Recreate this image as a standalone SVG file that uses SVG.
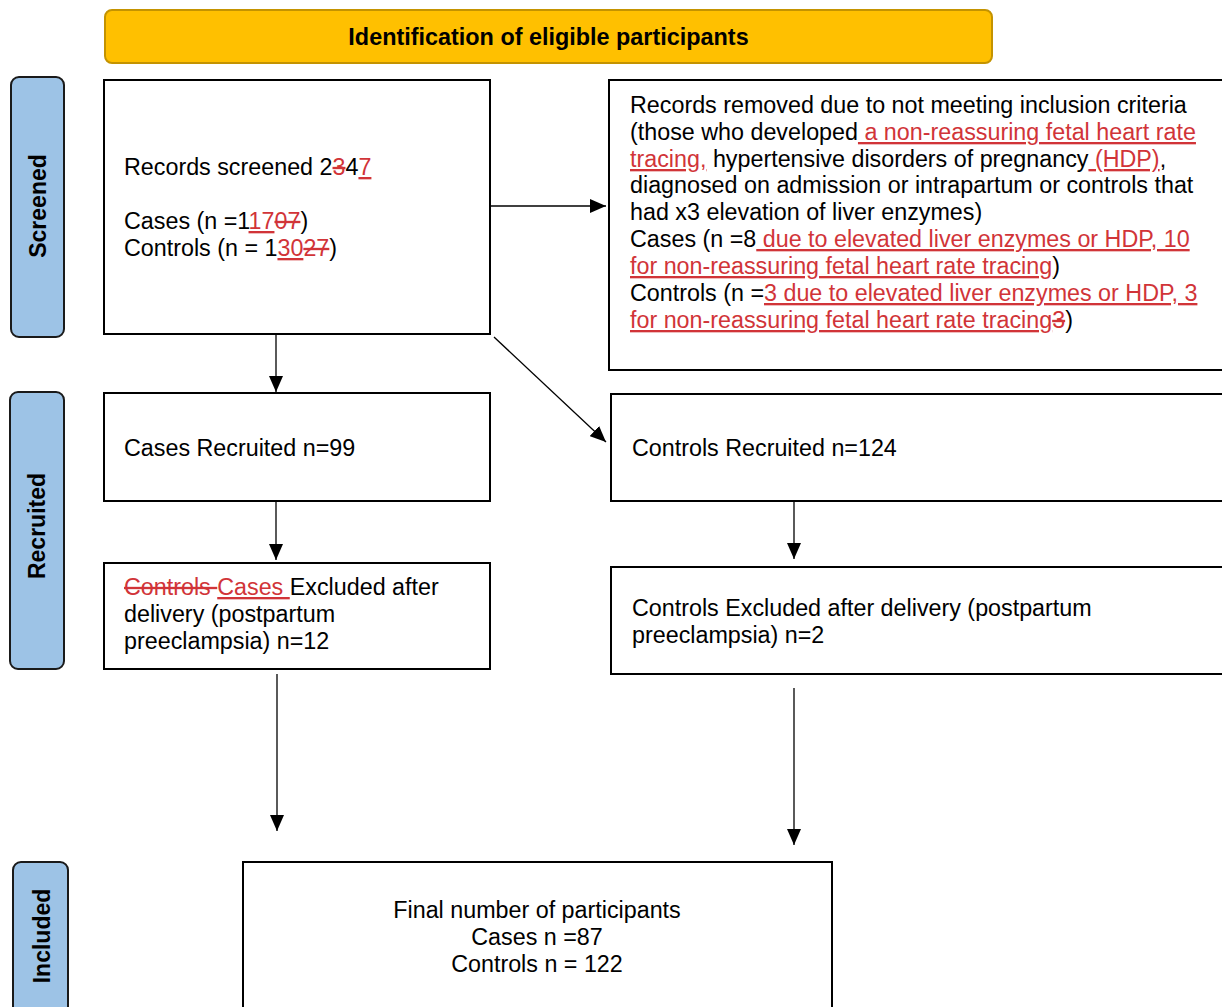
<svg xmlns="http://www.w3.org/2000/svg" width="1222" height="1007" viewBox="0 0 1222 1007">
<defs>
<style>
.box{fill:#fff;stroke:#000;stroke-width:2}
.side{fill:#9DC3E6;stroke:#1a1a1a;stroke-width:2}
.t{font-family:"Liberation Sans",Arial,sans-serif;font-size:23.3px;fill:#000}
.lbl{font-family:"Liberation Sans",Arial,sans-serif;font-size:23px;font-weight:bold;fill:#000}
.ttl{font-family:"Liberation Sans",Arial,sans-serif;font-size:23.4px;font-weight:bold;fill:#000}
.ins{fill:#D13438;text-decoration:underline}
.del{fill:#D13438;text-decoration:line-through}
.conn{stroke:#000;stroke-width:1.3;fill:none;marker-end:url(#ah)}
</style>
<marker id="ah" viewBox="0 0 16 14" refX="16" refY="7" markerWidth="16" markerHeight="14" markerUnits="userSpaceOnUse" orient="auto">
<path d="M0,0 L16,7 L0,14 Z" fill="#000"/>
</marker>
</defs>
<rect width="1222" height="1007" fill="#fff"/>

<g id="title">
<rect x="105" y="10" width="887" height="53" rx="7" fill="#FFC000" stroke="#C49300" stroke-width="2"/>
<text class="ttl" x="548.5" y="45" text-anchor="middle">Identification of eligible participants</text>
</g>

<g id="stage-screened">
<rect class="side" x="11" y="77" width="53" height="260" rx="8"/>
<text class="lbl" x="0" y="0" text-anchor="middle" transform="translate(45.5,206) rotate(-90)">Screened</text>
</g>
<g id="stage-recruited">
<rect class="side" x="10" y="392" width="54" height="277" rx="8"/>
<text class="lbl" x="0" y="0" text-anchor="middle" transform="translate(44.5,526) rotate(-90)">Recruited</text>
</g>
<g id="stage-included">
<rect class="side" x="13" y="862" width="55" height="160" rx="8"/>
<text class="lbl" x="0" y="0" text-anchor="middle" transform="translate(50,936) rotate(-90)">Included</text>
</g>

<g id="records-screened">
<rect class="box" x="104" y="80" width="386" height="254"/>
<text class="t" x="124" y="175">Records screened 2<tspan class="del">3</tspan>4<tspan class="ins">7</tspan></text>
<text class="t" x="124" y="229">Cases (n =1<tspan class="ins">17</tspan><tspan class="del">07</tspan>)</text>
<text class="t" x="124" y="256">Controls (n = 1<tspan class="ins">30</tspan><tspan class="del">27</tspan>)</text>
</g>

<g id="records-removed">
<rect class="box" x="609" y="80" width="625" height="290"/>
<text class="t" x="630" y="113">Records removed due to not meeting inclusion criteria</text>
<text class="t" x="630" y="140">(those who developed<tspan class="ins"> a non-reassuring fetal heart rate</tspan></text>
<text class="t" x="630" y="167"><tspan class="ins">tracing,</tspan> hypertensive disorders of pregnancy<tspan class="ins"> (HDP)</tspan>,</text>
<text class="t" x="630" y="193">diagnosed on admission or intrapartum or controls that</text>
<text class="t" x="630" y="220">had x3 elevation of liver enzymes)</text>
<text class="t" x="630" y="247">Cases (n =8<tspan class="ins"> due to elevated liver enzymes or HDP, 10</tspan></text>
<text class="t" x="630" y="274"><tspan class="ins">for non-reassuring fetal heart rate tracing</tspan>)</text>
<text class="t" x="630" y="301">Controls (n =<tspan class="ins">3 due to elevated liver enzymes or HDP, 3</tspan></text>
<text class="t" x="630" y="328"><tspan class="ins">for non-reassuring fetal heart rate tracing</tspan><tspan class="del">3</tspan>)</text>
</g>

<g id="cases-recruited">
<rect class="box" x="104" y="393" width="386" height="108"/>
<text class="t" x="124" y="456">Cases Recruited n=99</text>
</g>

<g id="controls-recruited">
<rect class="box" x="611" y="394" width="623" height="107"/>
<text class="t" x="632" y="456">Controls Recruited n=124</text>
</g>

<g id="cases-excluded">
<rect class="box" x="104" y="563" width="386" height="106"/>
<text class="t" x="124" y="595"><tspan class="del">Controls </tspan><tspan class="ins">Cases </tspan>Excluded after</text>
<text class="t" x="124" y="622">delivery (postpartum</text>
<text class="t" x="124" y="649">preeclampsia) n=12</text>
</g>

<g id="controls-excluded">
<rect class="box" x="611" y="567" width="623" height="107"/>
<text class="t" x="632" y="616">Controls Excluded after delivery (postpartum</text>
<text class="t" x="632" y="643">preeclampsia) n=2</text>
</g>

<g id="final">
<rect class="box" x="243" y="862" width="589" height="160"/>
<text class="t" x="537" y="918" text-anchor="middle">Final number of participants</text>
<text class="t" x="537" y="945" text-anchor="middle">Cases n =87</text>
<text class="t" x="537" y="972" text-anchor="middle">Controls n = 122</text>
</g>

<g id="connectors">
<line class="conn" x1="490" y1="206" x2="606" y2="206"/>
<line class="conn" x1="276" y1="334" x2="276" y2="392"/>
<line class="conn" x1="494" y1="337" x2="606" y2="442"/>
<line class="conn" x1="276" y1="502" x2="276" y2="560"/>
<line class="conn" x1="794" y1="502" x2="794" y2="559"/>
<line class="conn" x1="277" y1="674" x2="277" y2="831"/>
<line class="conn" x1="794" y1="688" x2="794" y2="845"/>
</g>
</svg>
